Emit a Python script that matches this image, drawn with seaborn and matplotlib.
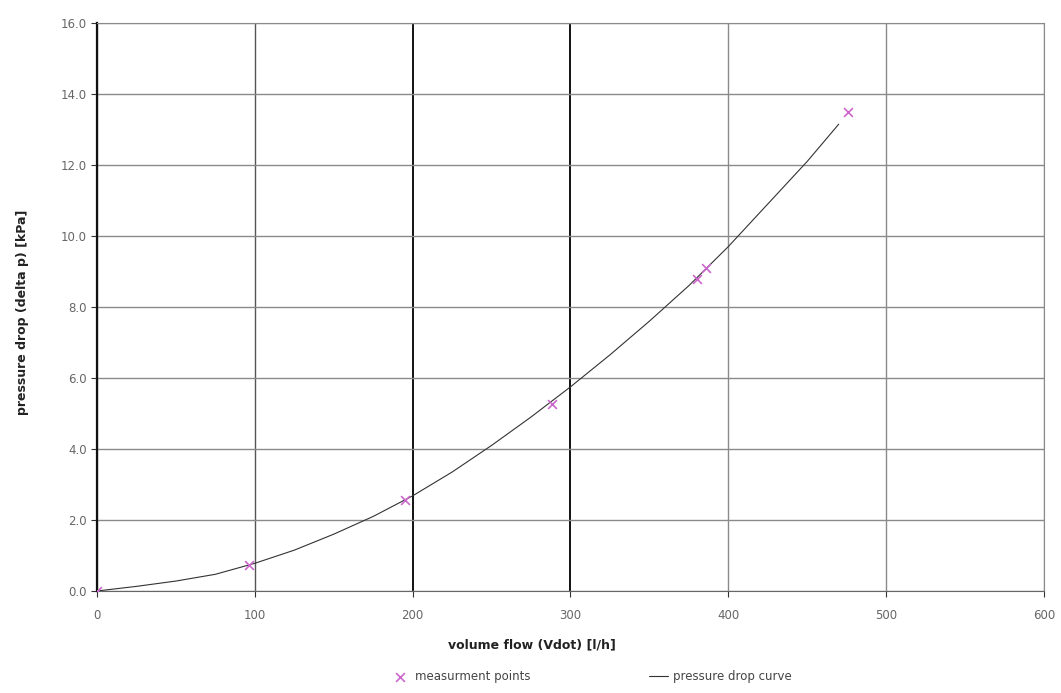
import pandas as pd
import numpy as np
import matplotlib.pyplot as plt
import seaborn as sns

flow_meas = [0, 96.5, 195, 288, 380, 386, 476]
dp_meas = [0.0, 0.74, 2.56, 5.26, 8.8, 9.1, 13.5]

# fitted pressure drop curve
flow_curve = [0, 25, 50, 75, 100, 125, 150, 175, 200, 225, 250, 275, 300,
              325, 350, 375, 400, 425, 450, 470]
dp_curve = [0.0, 0.13, 0.28, 0.47, 0.78, 1.15, 1.6, 2.1, 2.68, 3.35, 4.1, 4.9, 5.75,
            6.65, 7.6, 8.6, 9.7, 10.9, 12.1, 13.15]

x_ticks = [0, 100, 200, 300, 400, 500, 600]
y_ticks = [0, 2, 4, 6, 8, 10, 12, 14, 16]

sns.set_style("white")
plt.rcParams['font.family'] = ['DejaVu Sans']

fig = plt.figure(figsize=(10.61, 6.93), dpi=100)
ax = fig.add_axes([0.0914, 0.1472, 0.8925, 0.8196])

meas = pd.DataFrame({"flow": flow_meas, "dp": dp_meas})
curve = pd.DataFrame({"flow": flow_curve, "dp": dp_curve})

sns.lineplot(data=curve, x="flow", y="dp", ax=ax, color="#333333", lw=0.8,
             label="pressure drop curve", zorder=3)
sns.scatterplot(data=meas, x="flow", y="dp", ax=ax, marker="x", color="#cc66cc",
                s=40, linewidth=1.2, label="measurment points", zorder=4)

ax.set_xlim(0, 600)
ax.set_ylim(0, 16)
ax.set_xticks(x_ticks)
ax.set_yticks(y_ticks)
ax.set_yticklabels([f"{v:.1f}" for v in y_ticks])
ax.tick_params(axis="both", labelsize=8.5, labelcolor="#666666", length=4,
               color="#333333", direction="out", left=True, bottom=True)
ax.tick_params(axis="x", pad=9)

ax.grid(True, color="#8a8a8a", lw=1.0)
# darker vertical lines at 200 and 300 like the scanned original
for i, gl in enumerate(ax.xaxis.get_gridlines()):
    if x_ticks[i] in (200, 300):
        gl.set_color("#111111")
        gl.set_linewidth(1.4)
    elif x_ticks[i] == 100:
        gl.set_color("#555555")

for side in ["top", "right"]:
    ax.spines[side].set_color("#8a8a8a")
ax.spines["bottom"].set_color("#666666")
ax.spines["left"].set_color("#111111")
ax.spines["left"].set_linewidth(1.6)

ax.set_xlabel("volume flow (Vdot) [l/h]", fontsize=9, fontweight="bold", color="#222222")
ax.set_ylabel("pressure drop (delta p) [kPa]", fontsize=9, fontweight="bold", color="#222222")
ax.xaxis.set_label_coords(0.459, -0.083)
ax.yaxis.set_label_coords(-0.072, 0.49)

h, l = ax.get_legend_handles_labels()
ax.legend(h[::-1], l[::-1], loc="upper center", bbox_to_anchor=(0.522, -0.12), ncol=2,
          frameon=False, fontsize=8.5, columnspacing=10, handlelength=1.6,
          handletextpad=0.5, labelcolor="#444444")

fig.savefig("out.png", dpi=100)
